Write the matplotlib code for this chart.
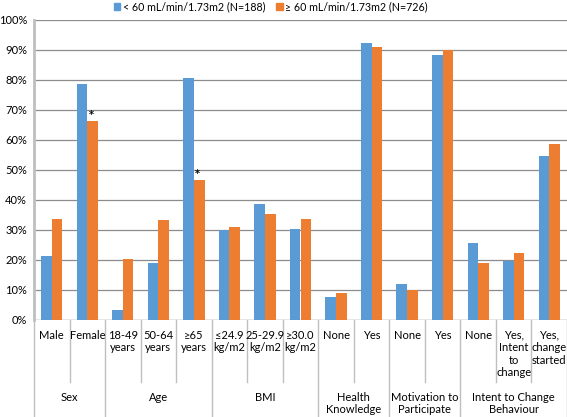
import numpy as np
import matplotlib.pyplot as plt
from matplotlib.patches import Patch

plt.rcParams['font.family'] = ['Lato', 'DejaVu Sans']

# categories, groups and values (percent)
cat_labels = ["Male", "Female", "18-49\nyears", "50-64\nyears", "≥65\nyears",
              "≤24.9\nkg/m2", "25-29.9\nkg/m2", "≥30.0\nkg/m2",
              "None", "Yes", "None", "Yes",
              "None", "Yes,\nIntent\nto\nchange", "Yes,\nchange\nstarted"]
groups = ["Sex", "Age", "BMI", "Health\nKnowledge", "Motivation to\nParticipate",
          "Intent to Change\nBehaviour"]
group_sizes = [2, 3, 3, 2, 2, 3]
low_egfr = [21.3, 78.7, 3.3, 19.1, 80.6, 30.0, 38.7, 30.3, 7.6, 92.4, 11.9, 88.2, 25.6, 19.8, 54.8]
high_egfr = [33.7, 66.4, 20.2, 33.3, 46.6, 31.0, 35.4, 33.6, 8.9, 91.1, 10.0, 90.0, 19.0, 22.3, 58.8]
starred = [1, 4]  # significant differences (index of category)
series_names = ["< 60 mL/min/1.73m2 (N=188)", "≥ 60 mL/min/1.73m2 (N=726)"]

blue = "#5B9BD5"
orange = "#ED7D31"
fs = 8

fig = plt.figure(figsize=(5.67, 4.17), dpi=100)
W, H = 567, 417
ax = fig.add_axes([34 / W, (H - 320) / H, (567 - 34) / W, 300 / H])

x = np.arange(len(cat_labels))
bw = 0.3
ax.bar(x - bw / 2, low_egfr, width=bw, color=blue, zorder=3)
ax.bar(x + bw / 2, high_egfr, width=bw, color=orange, zorder=3)
for i in starred:
    ax.text(x[i] + bw / 2 - 0.05, high_egfr[i] + 0.3, "*", ha="center", va="bottom",
            fontsize=7, fontweight="bold", family="DejaVu Sans")

ax.set_xlim(-0.5, len(cat_labels) - 0.5)
ax.set_ylim(0, 100)
ax.set_yticks(np.arange(0, 101, 10))
ax.set_yticklabels([f"{v}%" for v in range(0, 101, 10)], fontsize=fs)
ax.tick_params(axis="y", length=0, pad=5)
ax.set_xticks([])
ax.grid(axis="y", color="#8C8C8C", linewidth=0.9, zorder=0)
for s in ["top", "right", "bottom"]:
    ax.spines[s].set_visible(False)
ax.spines["left"].set_color("#BFBFBF")
ax.spines["left"].set_linewidth(2)
ax.axhline(0, color="#BFBFBF", linewidth=1, zorder=2)

# category labels and separators below the axis
trans = ax.get_xaxis_transform()
for i, lab in enumerate(cat_labels):
    ax.text(i, -0.033, lab, transform=trans, ha="center", va="top", fontsize=fs,
            linespacing=1.15)

bounds = np.cumsum([0] + group_sizes)
long_seps = set(bounds)
for b in range(len(cat_labels) + 1):
    y_end = -0.323 if b in long_seps else -0.207
    ax.plot([b - 0.5, b - 0.5], [0, y_end], transform=trans, color="#BFBFBF",
            linewidth=1, clip_on=False)

for g, lab in enumerate(groups):
    mid = (bounds[g] + bounds[g + 1] - 1) / 2
    ax.text(mid, -0.24, lab, transform=trans, ha="center", va="top", fontsize=fs,
            linespacing=1.15)

handles = [Patch(color=blue, label=series_names[0]), Patch(color=orange, label=series_names[1])]
fig.legend(handles=handles, loc="center", bbox_to_anchor=(271 / W, 1 - 7 / H), ncol=2,
           frameon=False, fontsize=7.7, handlelength=0.6, handleheight=0.6,
           handletextpad=0.25, columnspacing=1.0, borderpad=0)

fig.savefig("out.png", dpi=100)
